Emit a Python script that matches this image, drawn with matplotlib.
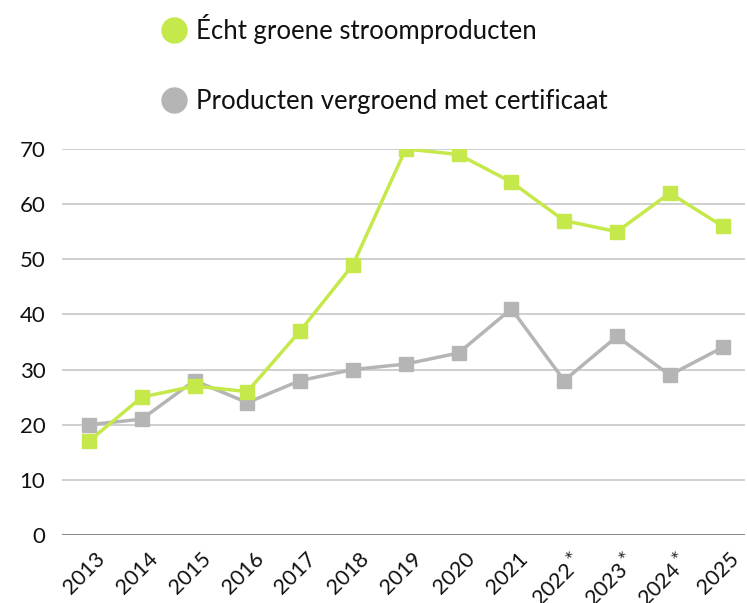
import matplotlib
matplotlib.use("Agg")
import matplotlib.pyplot as plt
from matplotlib.lines import Line2D
from matplotlib.transforms import ScaledTranslation

plt.rcParams['font.family'] = ['Lato', 'DejaVu Sans']

# data
years = [2013, 2014, 2015, 2016, 2017, 2018, 2019, 2020, 2021, 2022, 2023, 2024, 2025]
year_labels = ['2013', '2014', '2015', '2016', '2017', '2018', '2019', '2020', '2021',
               '2022$^*$', '2023$^*$', '2024$^*$', '2025']
echt_groen = [17, 25, 27, 26, 37, 49, 70, 69, 64, 57, 55, 62, 56]
certificaat = [20, 21, 28, 24, 28, 30, 31, 33, 41, 28, 36, 29, 34]
series_names = ['Écht groene stroomproducten', 'Producten vergroend met certificaat']

green = '#c5e84b'
grey = '#b5b5b5'

fig = plt.figure(figsize=(7.47, 6.03), dpi=100)
ax = fig.add_axes([0.083, 0.1128, 0.914, 0.6402])

ax.plot(years, certificaat, color=grey, lw=2.5, marker='s', ms=10, zorder=3)
ax.plot(years, echt_groen, color=green, lw=2.5, marker='s', ms=10, zorder=4)

ax.set_ylim(0, 70)
ax.set_xlim(2012.49, 2025.42)
ax.set_yticks(range(0, 71, 10))
ax.yaxis.grid(True, color='#cccccc', lw=1.3)
ax.set_axisbelow(True)
for s in ax.spines.values():
    s.set_visible(False)
ax.axhline(0, color='#8c8c8c', lw=1.5, zorder=2)
ax.tick_params(length=0, labelsize=16, colors='#111111')
ax.tick_params(axis='y', pad=12)
ax.tick_params(axis='x', pad=10, labelsize=15.5)

ax.set_xticks(years)
ax.set_xticklabels(year_labels, rotation=45, ha='right', rotation_mode='anchor')
shift = ScaledTranslation(6 / 100, 0, fig.dpi_scale_trans)
for lab in ax.get_xticklabels():
    lab.set_transform(lab.get_transform() + shift)

# legend with round markers
handles = [Line2D([], [], ls='none', marker='o', ms=18, color=c) for c in (green, grey)]
fig.legend(handles, series_names, loc='upper left', bbox_to_anchor=(0.185, 1.015),
           frameon=False, fontsize=18.5, labelspacing=1.75, handletextpad=0.35,
           handlelength=1.0, labelcolor='#111111')

fig.savefig('out.png', dpi=100)
